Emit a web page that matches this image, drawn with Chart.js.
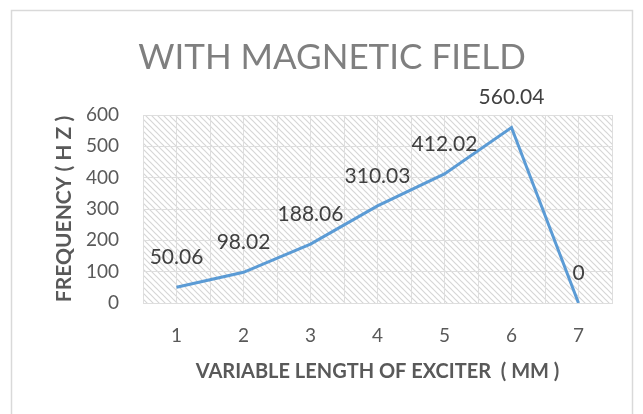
<!DOCTYPE html>
<html>
<head>
<meta charset="utf-8">
<script src="https://cdn.jsdelivr.net/npm/chart.js@4.4.1/dist/chart.umd.min.js"></script>
<style>
  html, body { margin: 0; padding: 0; background: #fff; }
  #wrap { width: 643px; height: 414px; }
</style>
</head>
<body>
<div id="wrap"><canvas id="chart" width="643" height="414"></canvas></div>
<script>
// data
var lengths = [1, 2, 3, 4, 5, 6, 7];
var frequency = [50.06, 98.02, 188.06, 310.03, 412.02, 560.04, 0];
var valueLabels = ["50.06", "98.02", "188.06", "310.03", "412.02", "560.04", "0"];

var chartTitle = "WITH MAGNETIC FIELD";
var xTitle = "VARIABLE LENGTH OF EXCITER  ( MM )";
var yTitle = "FREQUENCY ( H Z )";

var points = [];
for (var i = 0; i < lengths.length; i++) {
  points.push({ x: lengths[i], y: frequency[i] });
}

// diagonal hatch fill for the plot area
function makeHatch() {
  var c = document.createElement("canvas");
  c.width = 6;
  c.height = 6;
  var g = c.getContext("2d");
  g.strokeStyle = "#d6d6d6";
  g.lineWidth = 1.2;
  g.beginPath();
  g.moveTo(-1, -1); g.lineTo(7, 7);
  g.moveTo(-7, -1); g.lineTo(1, 7);
  g.moveTo(5, -1); g.lineTo(13, 7);
  g.stroke();
  return g.createPattern(c, "repeat");
}

var hatchPlugin = {
  id: "hatch",
  beforeDraw: function (chart) {
    var ctx = chart.ctx, a = chart.chartArea;
    ctx.save();
    ctx.fillStyle = makeHatch();
    ctx.fillRect(a.left, a.top, a.right - a.left, a.bottom - a.top);
    // outer frame of the chart
    ctx.strokeStyle = "#d9d9d9";
    ctx.lineWidth = 1.5;
    ctx.strokeRect(11.5, 10.5, 621, 440);
    ctx.restore();
  }
};

var labelPlugin = {
  id: "valueLabels",
  afterDatasetsDraw: function (chart) {
    var ctx = chart.ctx;
    var meta = chart.getDatasetMeta(0);
    ctx.save();
    ctx.font = "21px Lato";
    ctx.fillStyle = "#404040";
    ctx.textAlign = "center";
    ctx.textBaseline = "middle";
    meta.data.forEach(function (el, i) {
      ctx.fillText(valueLabels[i], el.x, el.y - 30);
    });
    ctx.restore();
  }
};

new Chart(document.getElementById("chart"), {
  type: "line",
  data: {
    datasets: [{
      data: points,
      borderColor: "#5b9bd5",
      borderWidth: 3,
      pointRadius: 0,
      tension: 0,
      fill: false
    }]
  },
  options: {
    responsive: false,
    animation: false,
    layout: { padding: { top: 37, left: 52, right: 31, bottom: 28 } },
    plugins: {
      legend: { display: false },
      tooltip: { enabled: false },
      title: {
        display: true,
        text: chartTitle,
        color: "#7f7f7f",
        font: { family: "Lato", size: 35, weight: "normal" },
        padding: { top: 0, bottom: 36 }
      }
    },
    scales: {
      x: {
        type: "linear",
        min: 0.5,
        max: 7.5,
        afterFit: function (s) { s.height = 414 - 303 - 28; },
        ticks: {
          stepSize: 0.5,
          padding: 21,
          color: "#595959",
          font: { family: "Lato", size: 19 },
          callback: function (v) { return Number.isInteger(v) ? String(v) : ""; }
        },
        grid: { color: "#dedede", drawTicks: false },
        border: { display: true, color: "#dedede" },
        title: {
          display: true,
          text: xTitle,
          color: "#595959",
          font: { family: "Lato", size: 20, weight: "bold" },
          padding: { top: 0, bottom: 2 }
        }
      },
      y: {
        min: 0,
        max: 600,
        afterFit: function (s) { s.width = 143 - 52; },
        ticks: {
          stepSize: 100,
          padding: 24,
          color: "#595959",
          font: { family: "Lato", size: 19 }
        },
        grid: { color: "#dedede", drawTicks: false },
        border: { display: false },
        title: {
          display: true,
          text: yTitle,
          color: "#595959",
          font: { family: "Lato", size: 21, weight: "bold" },
          padding: { top: 0, bottom: 0 }
        }
      }
    }
  },
  plugins: [hatchPlugin, labelPlugin]
});
</script>
</body>
</html>
